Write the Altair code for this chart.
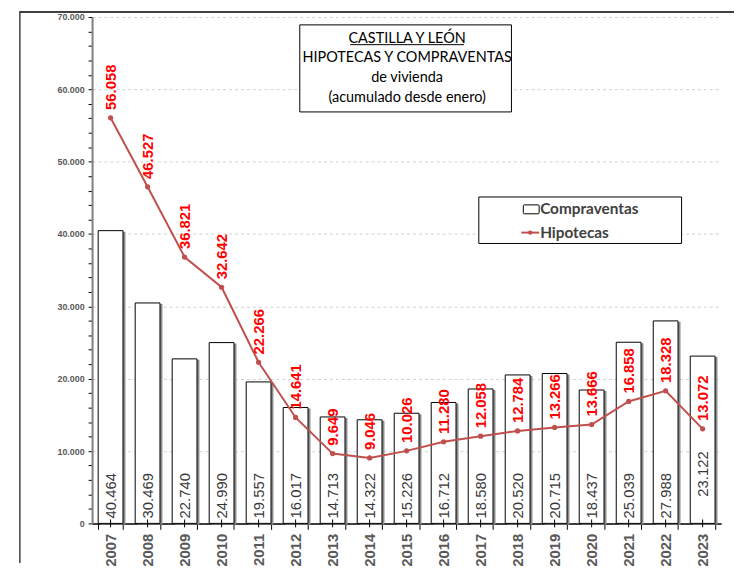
import altair as alt
import pandas as pd

YEARS = [str(y) for y in range(2007, 2024)]
COMPRAVENTAS = [40464, 30469, 22740, 24990, 19557, 16017, 14713, 14322, 15226,
                16712, 18580, 20520, 20715, 18437, 25039, 27988, 23122]
HIPOTECAS = [56058, 46527, 36821, 32642, 22266, 14641, 9649, 9046, 10026,
             11280, 12058, 12784, 13266, 13666, 16858, 18328, 13072]
Y_TICKS = list(range(0, 70001, 2000))
TITLE_LINES = ["CASTILLA Y LEÓN", "HIPOTECAS Y COMPRAVENTAS", "de vivienda",
               "(acumulado desde enero)"]
LEGEND_LABELS = ["Compraventas", "Hipotecas"]

W, H = 636, 512
LINE_COLOR = "#C0504D"

df = pd.DataFrame({"Año": YEARS, "Compraventas": COMPRAVENTAS, "Hipotecas": HIPOTECAS})
fmt = "replace(format(datum.{f}, ','), ',', '.')"

base = alt.Chart(df).transform_calculate(
    cv_label=fmt.format(f="Compraventas"),
    hp_label=fmt.format(f="Hipotecas"),
)

x_enc = alt.X(
    "Año:N",
    sort=YEARS,
    scale=alt.Scale(paddingInner=0.33, paddingOuter=0.165),
    axis=alt.Axis(
        title=None, labelAngle=270, labelFontSize=15, labelFontWeight="bold",
        labelColor="#595959", labelFont="Liberation Sans", tickBand="extent",
        tickSize=6, tickColor="black", domainColor="black", domainWidth=1.5,
        labelPadding=4, grid=False,
    ),
)
y_scale = alt.Scale(domain=[0, 70000], nice=False)

y_axis = alt.Axis(
    title=None, values=Y_TICKS, tickCount=len(Y_TICKS) + 5, labelOverlap=False,
    labelExpr="datum.value % 10000 === 0 ? replace(format(datum.value, ','), ',', '.') : ''",
    labelFontSize=9, labelFontWeight="bold", labelColor="#595959",
    labelFont="Liberation Sans", labelPadding=4, tickSize=4, tickColor="black",
    domainColor="#7f7f7f", domainWidth=2, grid=True, gridDash=[3, 3],
    gridColor="#d0d0d0",
    gridOpacity={"condition": {"test": "datum.value % 10000 !== 0", "value": 0}, "value": 1},
)

shadow = base.mark_bar(color="#8c8c8c", xOffset=2.5, yOffset=1).encode(
    x=x_enc, y=alt.Y("Compraventas:Q", scale=y_scale, axis=y_axis)
)
bars = base.mark_bar(fill="white", stroke="black", strokeWidth=1).encode(
    x=x_enc, y=alt.Y("Compraventas:Q", scale=y_scale)
)
center_ticks = base.mark_rule(color="black", strokeWidth=1).encode(
    x=x_enc, y=alt.value(H - 4), y2=alt.value(H + 4)
)
bar_labels = base.transform_filter(alt.datum["Año"] != "2023").mark_text(
    angle=270, align="left", baseline="middle", dx=5, fontSize=15,
    font="Liberation Sans", color="#383838"
).encode(x=x_enc, y=alt.datum(0, scale=y_scale), text="cv_label:N")
bar_label_last = base.transform_filter(alt.datum["Año"] == "2023").mark_text(
    angle=270, align="left", baseline="middle", dx=27, fontSize=15,
    font="Liberation Sans", color="#383838"
).encode(x=x_enc, y=alt.datum(0, scale=y_scale), text="cv_label:N")

line = base.mark_line(color=LINE_COLOR, strokeWidth=2).encode(
    x=x_enc, y=alt.Y("Hipotecas:Q", scale=y_scale)
)
pts = base.mark_point(filled=True, color=LINE_COLOR, size=28, opacity=1).encode(
    x=x_enc, y=alt.Y("Hipotecas:Q", scale=y_scale)
)
hp_labels = base.mark_text(
    angle=270, align="left", baseline="middle", dx=8, fontSize=15,
    fontWeight="bold", font="Liberation Sans", color="#FF0000"
).encode(x=x_enc, y=alt.Y("Hipotecas:Q", scale=y_scale), text="hp_label:N")

one = alt.Chart(pd.DataFrame({"k": [0]}))

# outer frame
frame_left = one.mark_rule(color="#404040", strokeWidth=1.5).encode(
    x=alt.value(-73), y=alt.value(-6), y2=alt.value(H + 40))
frame_top = one.mark_rule(color="#404040", strokeWidth=2).encode(
    x=alt.value(-73), x2=alt.value(W + 20), y=alt.value(-5))

# title box
title_box = one.mark_rect(fill="white", stroke="black", strokeWidth=1).encode(
    x=alt.value(210), x2=alt.value(424), y=alt.value(8), y2=alt.value(96))
title_text = one.mark_text(
    text=TITLE_LINES, lineHeight=20, baseline="top", align="center",
    fontSize=14.6, font="Lato", color="black"
).encode(x=alt.value(318.5), y=alt.value(14))
title_ul = one.mark_rule(color="black", strokeWidth=1).encode(
    x=alt.value(261), x2=alt.value(376), y=alt.value(28))

# legend
leg_box = one.mark_rect(fill="white", stroke="black", strokeWidth=1).encode(
    x=alt.value(391), x2=alt.value(596), y=alt.value(182), y2=alt.value(229))
leg_sym1 = one.mark_rect(fill="white", stroke="black", strokeWidth=1,
                         cornerRadius=1).encode(
    x=alt.value(436), x2=alt.value(452), y=alt.value(190), y2=alt.value(199))
leg_sym2 = one.mark_rule(color=LINE_COLOR, strokeWidth=2).encode(
    x=alt.value(434), x2=alt.value(452), y=alt.value(218))
leg_dot = one.mark_point(filled=True, color=LINE_COLOR, size=20, opacity=1).encode(
    x=alt.value(443), y=alt.value(218))
leg_t1 = one.mark_text(text=LEGEND_LABELS[0], align="left", baseline="middle",
                       fontSize=15.5, fontWeight="bold", font="Lato",
                       color="#404040").encode(x=alt.value(453), y=alt.value(194))
leg_t2 = one.mark_text(text=LEGEND_LABELS[1], align="left", baseline="middle",
                       fontSize=15.5, fontWeight="bold", font="Lato",
                       color="#404040").encode(x=alt.value(453), y=alt.value(218))

chart = alt.layer(
    shadow, bars, center_ticks, bar_labels, bar_label_last, line, pts, hp_labels,
    frame_left, frame_top, title_box, title_text, title_ul,
    leg_box, leg_sym1, leg_sym2, leg_dot, leg_t1, leg_t2,
).properties(
    width=W, height=H,
    autosize=alt.AutoSizeParams(type="none"),
    padding={"left": 85, "top": 6, "right": 13, "bottom": 40},
).configure_view(stroke=None)

chart.save("out.html", embed_options={"renderer": "svg", "actions": False})
